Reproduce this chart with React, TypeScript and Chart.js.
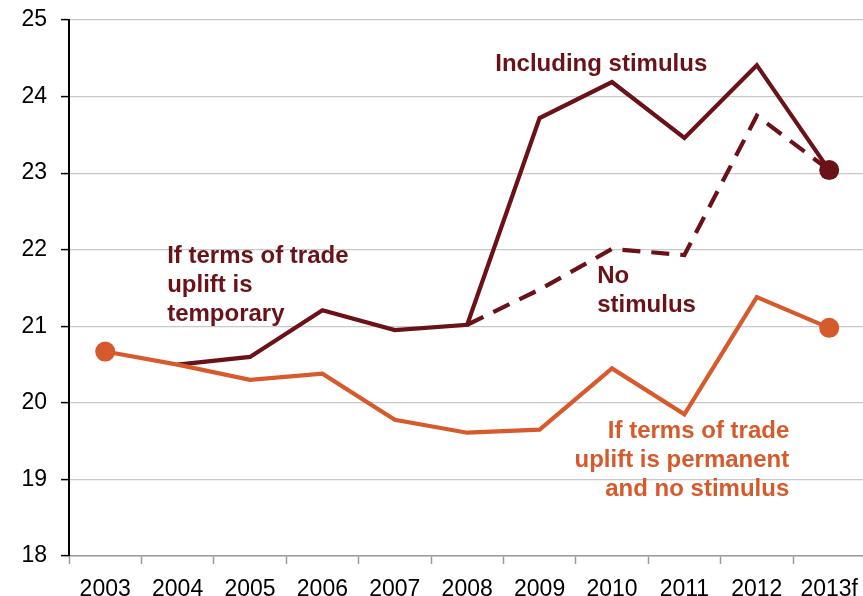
import React, { useEffect, useRef } from "react";
import { Chart, registerables } from "chart.js";

Chart.register(...registerables);

// ---- data ----
const categories = ["2003", "2004", "2005", "2006", "2007", "2008", "2009", "2010", "2011", "2012", "2013f"];
const includingStimulus = [null, 20.5, 20.6, 21.21, 20.95, 21.02, 23.72, 24.19, 23.46, 24.41, 23.04];
const noStimulus = [null, null, null, null, null, 21.02, 21.48, 22.01, 21.93, 23.75, 23.04];
const permanentNoStimulus = [20.67, 20.5, 20.3, 20.38, 19.78, 19.61, 19.65, 20.45, 19.85, 21.38, 20.98];
const yMin = 18;
const yMax = 25;

const labelIncluding = ["Including stimulus"];
const labelTemporary = ["If terms of trade", "uplift is", "temporary"];
const labelNoStimulus = ["No", "stimulus"];
const labelPermanent = ["If terms of trade", "uplift is permanent", "and no stimulus"];

// ---- styles ----
const DARK = "#6b1219";
const ORANGE = "#d65a2b";
const FONT = "'Liberation Sans', Arial, Helvetica, sans-serif";

// annotation anchors in data units (category index, value)
const annotations = [
  { lines: labelIncluding, x: 5.387, y: 24.334, align: "left", color: DARK },
  { lines: labelTemporary, x: 0.856, y: 21.827, align: "left", color: DARK },
  { lines: labelNoStimulus, x: 6.796, y: 21.565, align: "left", color: DARK },
  { lines: labelPermanent, x: 9.448, y: 19.541, align: "right", color: ORANGE },
];

const endDot = (n: number, idx: number[]) =>
  Array.from({ length: n }, (_, i) => (idx.includes(i) ? 10 : 0));

const annotationPlugin = {
  id: "textAnnotations",
  afterDatasetsDraw(chart: any) {
    const { ctx, scales } = chart;
    const xs = scales.x;
    const ys = scales.y;
    ctx.save();
    ctx.font = `bold 24px ${FONT}`;
    ctx.textBaseline = "alphabetic";
    annotations.forEach((a) => {
      const px = xs.getPixelForValue(a.x);
      const py = ys.getPixelForValue(a.y);
      ctx.fillStyle = a.color;
      ctx.textAlign = a.align as CanvasTextAlign;
      a.lines.forEach((line, i) => {
        ctx.fillText(line, px, py + i * 28.8);
      });
    });
    ctx.restore();
  },
};

export default function App() {
  const canvasRef = useRef<HTMLCanvasElement | null>(null);

  useEffect(() => {
    if (!canvasRef.current) return;
    const chart = new Chart(canvasRef.current, {
      type: "line",
      data: {
        labels: categories,
        datasets: [
          {
            label: "If terms of trade uplift is permanent and no stimulus",
            data: permanentNoStimulus,
            borderColor: ORANGE,
            backgroundColor: ORANGE,
            borderWidth: 4.2,
            pointRadius: endDot(categories.length, [0, categories.length - 1]),
            pointBorderWidth: 0,
            pointHoverRadius: 0,
            tension: 0,
          },
          {
            label: "Including stimulus",
            data: includingStimulus,
            borderColor: DARK,
            backgroundColor: DARK,
            borderWidth: 4.2,
            pointRadius: endDot(categories.length, [categories.length - 1]),
            pointBorderWidth: 0,
            tension: 0,
          },
          {
            label: "No stimulus",
            data: noStimulus,
            borderColor: DARK,
            backgroundColor: DARK,
            borderWidth: 4.2,
            borderDash: [18, 11],
            pointRadius: 0,
            tension: 0,
          },
        ],
      },
      options: {
        responsive: false,
        animation: false,
        events: [],
        layout: { padding: { top: 20, right: 14.6, bottom: 0, left: 0 } },
        plugins: {
          legend: { display: false },
          tooltip: { enabled: false },
          title: { display: false },
        },
        scales: {
          x: {
            type: "category",
            offset: true,
            grid: {
              display: true,
              offset: true,
              drawOnChartArea: false,
              drawTicks: true,
              tickLength: 8,
              color: "#9a9a9a",
              tickColor: "#9a9a9a",
              tickWidth: 1.5,
            },
            border: { display: true, color: "#9a9a9a", width: 1.5 },
            ticks: {
              color: "#000",
              padding: 12,
              autoSkip: false,
              maxRotation: 0,
              font: { family: FONT, size: 23 },
            },
            afterFit: (scale: any) => {
              scale.height = 40;
              scale.paddingLeft = 0;
              scale.paddingRight = 0;
            },
          },
          y: {
            min: yMin,
            max: yMax,
            grid: {
              color: "#c8c8c8",
              lineWidth: 1.2,
              tickLength: 8,
              tickColor: "#000",
              tickWidth: 1.5,
            },
            border: { display: true, color: "#000", width: 2 },
            ticks: {
              stepSize: 1,
              color: "#000",
              padding: 14,
              font: { family: FONT, size: 23 },
            },
            afterFit: (scale: any) => {
              scale.width = 69;
              scale.paddingTop = 0;
              scale.paddingBottom = 0;
            },
          },
        },
      },
      plugins: [annotationPlugin],
    });
    return () => chart.destroy();
  }, []);

  return (
    <div
      style={{
        position: "fixed",
        left: 0,
        top: 0,
        width: 863,
        height: 596,
        overflow: "hidden",
        background: "#fff",
      }}
    >
      <canvas ref={canvasRef} width={880} height={596} style={{ display: "block" }} />
    </div>
  );
}
